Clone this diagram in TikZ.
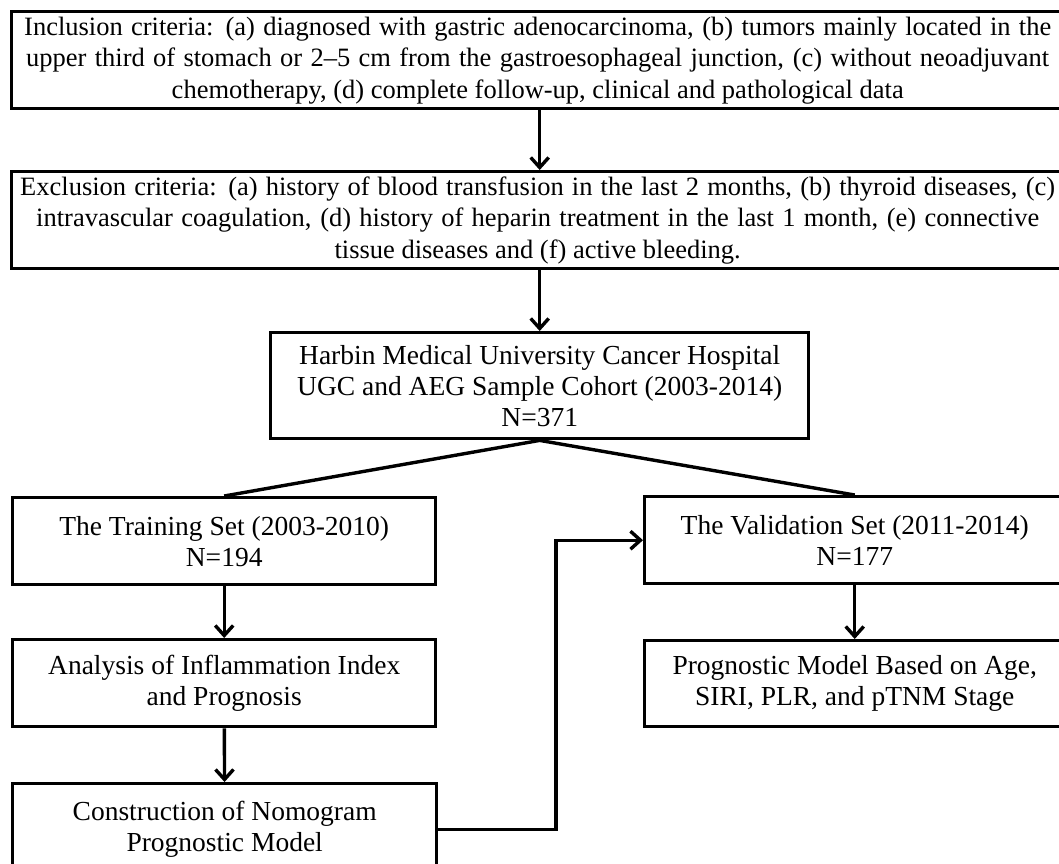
\documentclass[tikz,border=0pt]{standalone}
\usepackage{fontspec}
\setmainfont{Liberation Serif}
\usetikzlibrary{arrows.meta}
\tikzset{
  box/.style={draw, line width=3.4pt, inner sep=0pt, align=center, anchor=north west},
  bigtext/.style={font=\fontsize{26.5}{31.5}\selectfont},
  smalltext/.style={font=\fontsize{27.5}{31}\selectfont},
  conn/.style={line width=3.4pt},
  arr/.style={conn, -{Straight Barb[length=10pt,width=18pt]}}
}
\begin{document}
\begin{tikzpicture}[x=1pt,y=-1pt]
\useasboundingbox (0,0) rectangle (1059,863);
\clip (0,0) rectangle (1059,863);
\node[box, bigtext, minimum width=1052pt, minimum height=97pt] (inc) at (10,10)
  {\makebox[1027pt][s]{Inclusion criteria: (a) diagnosed with gastric adenocarcinoma, (b) tumors mainly located in the}\\
   \makebox[1023pt][s]{upper third of stomach or 2–5 cm from the gastroesophageal junction, (c) without neoadjuvant}\\
   chemotherapy, (d) complete follow-up, clinical and pathological data};
\node[box, bigtext, minimum width=1052pt, minimum height=97pt] (exc) at (10,170)
  {\makebox[1035pt][s]{Exclusion criteria: (a) history of blood transfusion in the last 2 months, (b) thyroid diseases, (c)}\\
   \makebox[1003pt][s]{intravascular coagulation, (d) history of heparin treatment in the last 1 month, (e) connective}\\
   tissue diseases and (f) active bleeding.};
\node[box, smalltext, minimum width=538pt, minimum height=106pt] (hb) at (269,331)
  {Harbin Medical University Cancer Hospital\\UGC and AEG Sample Cohort (2003-2014)\\N=371};
\node[box, smalltext, minimum width=423pt, minimum height=87pt] (train) at (11,496)
  {The Training Set (2003-2010)\\N=194};
\node[box, smalltext, minimum width=420pt, minimum height=87pt] (val) at (643,495)
  {The Validation Set (2011-2014)\\N=177};
\node[box, smalltext, minimum width=423pt, minimum height=87pt] (ana) at (11,638)
  {Analysis of Inflammation Index\\and Prognosis};
\node[box, smalltext, minimum width=420pt, minimum height=86pt] (prog) at (643,639)
  {Prognostic Model Based on Age,\\SIRI, PLR, and pTNM Stage};
\node[box, smalltext, minimum width=424pt, minimum height=92pt] (cons) at (11,782)
  {Construction of Nomogram\\Prognostic Model};
\coordinate (bend) at (556,0);
\draw[arr] (inc.south -| hb.north) -- (exc.north -| hb.north);
\draw[arr] (exc.south -| hb.north) -- (hb.north);
\draw[conn, line join=miter] (train.north) -- (hb.south) -- (val.north);
\draw[arr] (train) -- (ana);
\draw[arr] (val) -- (prog);
\draw[arr] (ana) -- (cons);
\draw[arr] (cons.east) -- (cons.east -| bend) |- (val.west);
\end{tikzpicture}
\end{document}
